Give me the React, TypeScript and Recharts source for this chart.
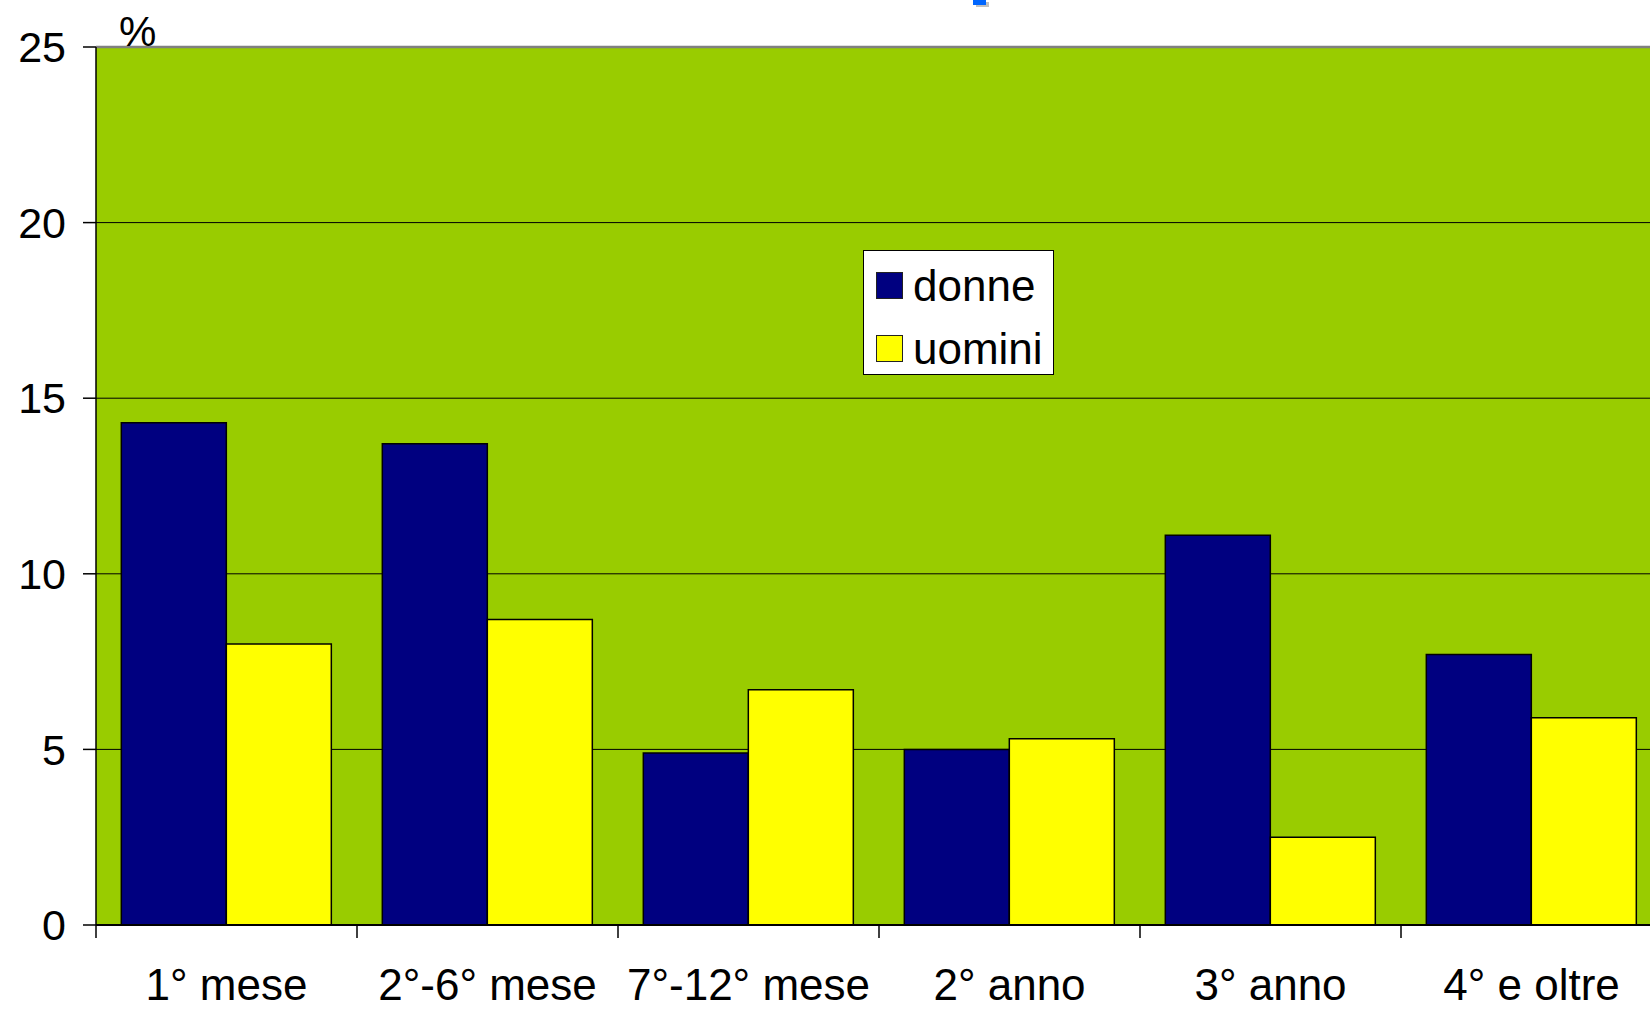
import React from "react";
import {
  BarChart,
  Bar,
  XAxis,
  YAxis,
  CartesianGrid,
  Legend,
  ReferenceLine,
} from "recharts";

const categories = ["1° mese", "2°-6° mese", "7°-12° mese", "2° anno", "3° anno", "4° e oltre"];
const donne = [14.3, 13.7, 4.9, 5.0, 11.1, 7.7];
const uomini = [8.0, 8.7, 6.7, 5.3, 2.5, 5.9];
const yTicks = [0, 5, 10, 15, 20, 25];

const FONT = '"Liberation Sans", Arial, sans-serif';
const NAVY = "#000080";
const YELLOW = "#FFFF00";
const GREEN = "#99CC00";
const TICK = 13;
const XMARGIN = 31;

const data = categories.map((cat, i) => ({
  cat,
  donne: donne[i],
  uomini: uomini[i],
}));

// category labels, plus a tick mark on the left edge of each band
const CatTick = (props: any) => {
  const { x, y, payload } = props;
  const half = payload && payload.offset ? payload.offset : 130.5;
  const axisY = y - XMARGIN - TICK;
  return (
    <g>
      <line x1={x - half} y1={axisY} x2={x - half} y2={axisY + TICK} stroke="#000" strokeWidth={1.5} />
      <text x={x} y={y} dy="0.71em" textAnchor="middle" fontSize={44} fill="#000" fontFamily={FONT}>
        {payload.value}
      </text>
    </g>
  );
};

const LegendBox = (props: any) => {
  const items = props.payload || [];
  return (
    <div
      style={{
        width: 191,
        height: 125,
        boxSizing: "border-box",
        background: "#fff",
        border: "1.5px solid #000",
        padding: "3px 0 0 12px",
        fontFamily: FONT,
        fontSize: 44,
        color: "#000",
      }}
    >
      {items.map((it: any) => (
        <div key={it.value} style={{ display: "flex", alignItems: "center", height: 63 }}>
          <span
            style={{
              display: "inline-block",
              width: 27,
              height: 27,
              boxSizing: "border-box",
              background: it.color,
              border: "1.5px solid #222",
              marginRight: 10,
            }}
          />
          <span style={{ lineHeight: "63px" }}>{it.value}</span>
        </div>
      ))}
    </div>
  );
};

export default function App() {
  return (
    <div
      style={{
        position: "fixed",
        left: 0,
        top: 0,
        width: 1650,
        height: 1010,
        overflow: "hidden",
        background: "#fff",
      }}
    >
      <div style={{ position: "absolute", left: 0, top: 0, width: 1662, height: 1010 }}>
        <BarChart
          width={1662}
          height={1010}
          data={data}
          margin={{ top: 47, right: 0, left: 0, bottom: 0 }}
          barCategoryGap="9.7%"
          barGap={0}
        >
          <CartesianGrid vertical={false} stroke="#000" strokeWidth={1} fill={GREEN} fillOpacity={1} />
          <XAxis
            dataKey="cat"
            height={85}
            interval={0}
            tickSize={TICK}
            tickMargin={XMARGIN}
            tickLine={false}
            axisLine={{ stroke: "#000", strokeWidth: 2 }}
            tick={<CatTick />}
          />
          <YAxis
            width={96}
            domain={[0, 25]}
            ticks={yTicks}
            interval={0}
            tickSize={TICK}
            tickMargin={17}
            axisLine={{ stroke: "#000", strokeWidth: 1.5 }}
            tickLine={{ stroke: "#000", strokeWidth: 1.5 }}
            tick={{ fill: "#000", fontSize: 43, fontFamily: FONT }}
          />
          <ReferenceLine y={25} stroke="#808080" strokeWidth={2.5} />
          <Legend
            layout="vertical"
            align="center"
            verticalAlign="middle"
            content={<LegendBox />}
            wrapperStyle={{ left: 863, top: 250, width: 191, height: 125 }}
          />
          <Bar dataKey="donne" name="donne" fill={NAVY} stroke="#000" strokeWidth={1.5} isAnimationActive={false} />
          <Bar dataKey="uomini" name="uomini" fill={YELLOW} stroke="#000" strokeWidth={1.5} isAnimationActive={false} />
        </BarChart>
      </div>
      <div
        style={{
          position: "absolute",
          left: 119,
          top: 11,
          fontFamily: FONT,
          fontSize: 42,
          lineHeight: "42px",
          color: "#000",
        }}
      >
        %
      </div>
      <div
        style={{
          position: "absolute",
          left: 973,
          top: 0,
          width: 13,
          height: 5,
          background: "#0066FF",
          boxShadow: "3px 2px 0 #c0c0c0",
        }}
      />
    </div>
  );
}
